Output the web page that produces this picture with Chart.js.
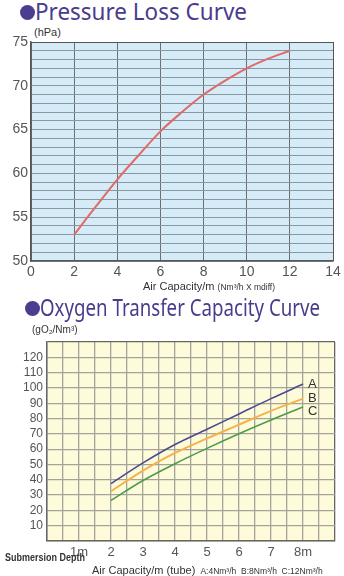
<!DOCTYPE html>
<html><head><meta charset="utf-8">
<script src="https://cdn.jsdelivr.net/npm/chart.js@4/dist/chart.umd.min.js"></script>
<style>
html,body{margin:0;padding:0;background:#fff;}
#page{position:relative;width:344px;height:576px;overflow:hidden;font-family:"Liberation Sans",Arial,sans-serif;color:#333;}
.abs{position:absolute;white-space:nowrap;line-height:1;}
canvas{position:absolute;left:0;}
.title{color:#4a3c8c;font-family:"Noto Sans",sans-serif;font-size:23px;transform-origin:0 0;}
.dot{position:absolute;width:15px;height:15px;border-radius:50%;background:#4b3d8f;}
</style></head>
<body>
<div id="page">
  <div class="dot" style="left:20px;top:5px;"></div>
  <div class="abs title" id="t1" data-w="212" style="left:35px;top:0px;">Pressure Loss Curve</div>
  <div class="abs" style="left:34px;top:27px;font-size:11px;">(hPa)</div>
  <div id="c1wrap" style="position:absolute;left:0;top:0;width:344px;height:290px;"><canvas id="c1"></canvas></div>
  <div class="abs" style="left:143px;top:281px;font-size:11px;">Air Capacity/m <span style="font-size:8.5px;">(Nm³/h X mdiff)</span></div>

  <div class="dot" style="left:25px;top:301px;"></div>
  <div class="abs title" id="t2" data-w="280" style="left:40px;top:296px;">Oxygen Transfer Capacity Curve</div>
  <div class="abs" style="left:32px;top:325px;font-size:10px;">(gO₂/Nm³)</div>
  <div id="c2wrap" style="position:absolute;left:0;top:290px;width:344px;height:286px;"><canvas id="c2"></canvas></div>
  <div class="abs" id="sd" data-w="80" style="left:5px;top:553px;font-size:10px;font-weight:bold;transform-origin:0 0;">Submersion Depth</div>
  <div class="abs" style="left:92px;top:565px;font-size:11px;">Air Capacity/m (tube) <span style="font-size:8.5px;margin-left:2px;">A:4Nm³/h&nbsp; B:8Nm³/h&nbsp; C:12Nm³/h</span></div>
</div>
<script>
// Pressure loss vs. air capacity per metre of diffuser
const pressureX = [2, 3, 4, 5, 6, 7, 8, 9, 10, 11, 12];
const pressureLoss = [53, 56.2, 59.3, 62.1, 64.8, 67, 69, 70.6, 72, 73.1, 74];

// Oxygen transfer capacity vs. submersion depth, per air capacity
const depthX = [2, 3, 4, 5, 6, 7, 8];
const seriesNames = ['A', 'B', 'C'];
const seriesA = [37.5, 51, 63, 73, 83, 93, 102.5];
const seriesB = [32.5, 46, 57.5, 67, 76, 85, 93];
const seriesC = [26.5, 39.5, 50.5, 60.5, 70, 79, 87.5];
const seriesColors = ['#4b4a8e', '#f6b248', '#4e9a4c'];

// Squeeze headings to their set widths
document.querySelectorAll('[data-w]').forEach(el => {
  const w = el.getBoundingClientRect().width;
  el.style.transform = 'scaleX(' + (parseFloat(el.dataset.w) / w) + ')';
});

const areaFill = {
  id: 'areaFill',
  beforeDraw(chart, args, opts) {
    const { ctx, chartArea: a } = chart;
    ctx.save();
    ctx.fillStyle = opts.color;
    ctx.fillRect(a.left, a.top, a.right - a.left, a.bottom - a.top);
    ctx.restore();
  }
};

const endLabels = {
  id: 'endLabels',
  afterDatasetsDraw(chart, args, opts) {
    if (!opts.show) return;
    const ctx = chart.ctx;
    ctx.save();
    ctx.font = '13px "Liberation Sans", Arial, sans-serif';
    ctx.fillStyle = '#333';
    ctx.textBaseline = 'middle';
    chart.data.datasets.forEach((ds, i) => {
      const meta = chart.getDatasetMeta(i);
      const p = meta.data[meta.data.length - 1];
      ctx.fillText(ds.label, p.x + 5, p.y + (opts.dy[i] || 0));
    });
    ctx.restore();
  }
};

Chart.register(areaFill, endLabels);
Chart.defaults.font.family = '"Liberation Sans", Arial, sans-serif';
Chart.defaults.color = '#555';

new Chart(document.getElementById('c1'), {
  type: 'line',
  data: {
    labels: pressureX,
    datasets: [{
      data: pressureX.map((x, i) => ({ x, y: pressureLoss[i] })),
      borderColor: '#e06a6a', borderWidth: 2, pointRadius: 0,
      cubicInterpolationMode: 'monotone'
    }]
  },
  options: {
    responsive: true, maintainAspectRatio: false, animation: false,
    layout: { padding: { top: 42, right: 11, left: 0, bottom: 0 } },
    plugins: { legend: { display: false }, tooltip: { enabled: false },
      areaFill: { color: '#d5ebf7' }, endLabels: { show: false } },
    scales: {
      x: {
        type: 'linear', min: 0, max: 14,
        afterFit(s) { s.height = 29; },
        ticks: { stepSize: 2, padding: 3, autoSkip: false, font: { size: 14 }, color: '#555' },
        grid: { drawTicks: false, color: c => (c.tick && (c.tick.value === 14)) ? '#555' : '#6e6e6e', lineWidth: 1 },
        border: { display: true, color: '#555', width: 1.5 }
      },
      y: {
        min: 50, max: 75,
        afterFit(s) { s.width = 31; },
        ticks: { stepSize: 1, padding: 3, autoSkip: false, font: { size: 14 }, color: '#555',
          callback: v => (v % 5 === 0 ? v : '') },
        grid: { drawTicks: false, color: c => (c.tick && c.tick.value === 75) ? '#555' : '#8a979e', lineWidth: 1 },
        border: { display: true, color: '#555', width: 1.5 }
      }
    }
  }
});

new Chart(document.getElementById('c2'), {
  type: 'line',
  data: {
    datasets: [seriesA, seriesB, seriesC].map((vals, i) => ({
      label: seriesNames[i],
      data: depthX.map((x, j) => ({ x, y: vals[j] })),
      borderColor: seriesColors[i], borderWidth: i === 1 ? 2 : 1.6, pointRadius: 0,
      cubicInterpolationMode: 'monotone'
    }))
  },
  options: {
    responsive: true, maintainAspectRatio: false, animation: false,
    layout: { padding: { top: 52, right: 9, left: 0, bottom: 0 } },
    plugins: { legend: { display: false }, tooltip: { enabled: false },
      areaFill: { color: '#fefbdb' }, endLabels: { show: true, dy: [0, 0, 4] } },
    scales: {
      x: {
        type: 'linear', min: 0, max: 9,
        afterFit(s) { s.height = 35; },
        ticks: { stepSize: 0.5, padding: 4, autoSkip: false, maxRotation: 0, font: { size: 13 }, color: '#555',
          callback: v => v === 1 ? '1m' : v === 8 ? '8m' : (Number.isInteger(v) && v >= 2 && v <= 7 ? v : '') },
        grid: { drawTicks: false, color: c => (c.tick && c.tick.value === 9) ? '#666' : '#a3a39a', lineWidth: 1.3 },
        border: { display: true, color: '#666', width: 1.5 }
      },
      y: {
        min: 0, max: 130,
        afterFit(s) { s.width = 47; },
        ticks: { stepSize: 10, padding: 4, autoSkip: false, font: { size: 12 }, color: '#555',
          callback: v => (v >= 10 && v <= 120 ? v : '') },
        grid: { drawTicks: false, color: c => (c.tick && c.tick.value === 130) ? '#666' : '#a3a39a', lineWidth: 1.3 },
        border: { display: true, color: '#666', width: 1.5 }
      }
    }
  }
});
</script>
</body></html>
